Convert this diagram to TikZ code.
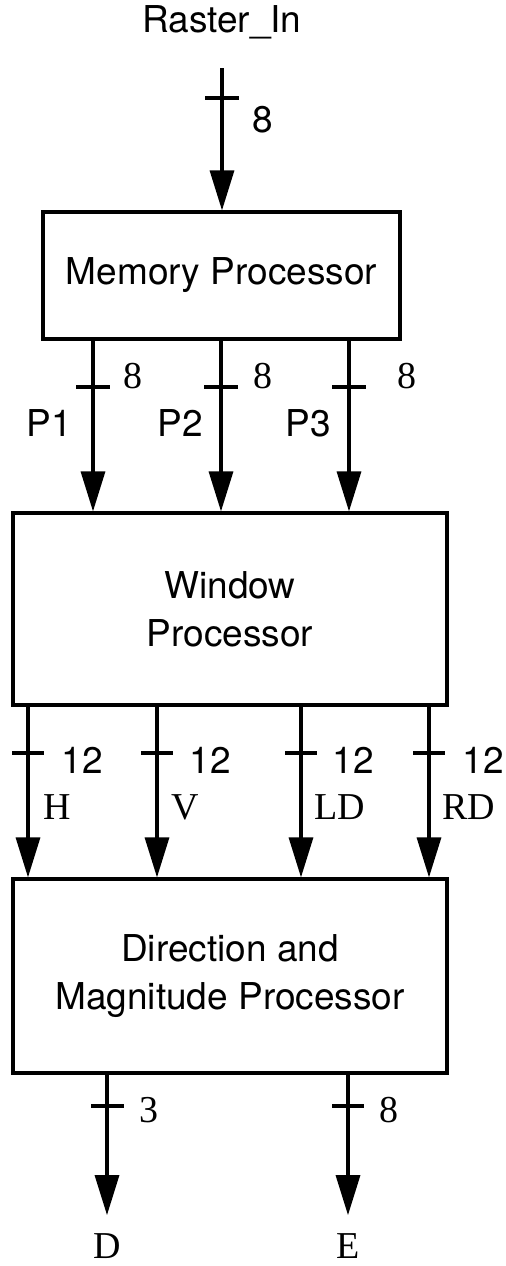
\documentclass[tikz,border=0pt]{standalone}
\usepackage{fontspec}
\setmainfont{Liberation Serif}
\newfontfamily\helv{TeX Gyre Heros}
\usetikzlibrary{arrows.meta}

\tikzset{
    block/.style={draw, line width=1.6pt, inner sep=0pt, align=center,
        font=\helv\fontsize{18.5}{24}\selectfont},
    bus/.style={line width=1.6pt, -{Triangle[length=20pt, width=12pt]}},
    buswidth/.style={line width=1.6pt},
    sanslabel/.style={inner sep=0pt, font=\helv\fontsize{18.5}{21}\selectfont},
    seriflabel/.style={inner sep=0pt, font=\fontsize{19}{22}\selectfont},
}

\begin{document}
\begin{tikzpicture}[x=0.5pt, y=-0.5pt]
    \useasboundingbox (0,0) rectangle (505,1266);

    % ---------------- blocks ----------------
    \node[block, minimum width=178.5pt, minimum height=63.5pt] (mem) at (221.5,275.5) {Memory Processor};
    \node[block, minimum width=217pt, minimum height=96pt] (win) at (230,609) {Window\\Processor};
    \node[block, minimum width=217pt, minimum height=97pt] (dmp) at (230,976) {Direction and\\Magnitude Processor};

    % ---------------- input ----------------
    \node[sanslabel] (rin) at (222,22) {Raster\_In};
    \coordinate (rin-tail) at (222,68);
    \draw[bus] (rin-tail) -- (rin-tail |- mem.north);
    \draw[buswidth] (205,98) -- (239,98);
    \node[sanslabel] (w0) at (263,120) {8};

    % ---------------- memory -> window ----------------
    \draw[bus] (93,0 |- mem.south) -- (93,0 |- win.north);
    \draw[bus] (221,0 |- mem.south) -- (221,0 |- win.north);
    \draw[bus] (349,0 |- mem.south) -- (349,0 |- win.north);

    \draw[buswidth] (76,387) -- (110,387);
    \draw[buswidth] (204,387) -- (238,387);
    \draw[buswidth] (332,387) -- (366,387);

    \node[seriflabel] (w1) at (133,376) {8};
    \node[seriflabel] (w2) at (263,376) {8};
    \node[seriflabel] (w3) at (407,376) {8};

    \node[sanslabel] (p1) at (49,423) {P1};
    \node[sanslabel] (p2) at (180,423) {P2};
    \node[sanslabel] (p3) at (308,423) {P3};

    % ---------------- window -> direction/magnitude ----------------
    \draw[bus] (28,0 |- win.south) -- (28,0 |- dmp.north);
    \draw[bus] (157,0 |- win.south) -- (157,0 |- dmp.north);
    \draw[bus] (301,0 |- win.south) -- (301,0 |- dmp.north);
    \draw[bus] (429,0 |- win.south) -- (429,0 |- dmp.north);

    \draw[buswidth] (12,753) -- (44,753);
    \draw[buswidth] (141,753) -- (173,753);
    \draw[buswidth] (285,753) -- (317,753);
    \draw[buswidth] (413,753) -- (445,753);

    \node[sanslabel] (w4) at (82,760) {12};
    \node[sanslabel] (w5) at (210,760) {12};
    \node[sanslabel] (w6) at (353,760) {12};
    \node[sanslabel] (w7) at (483,760) {12};

    \node[seriflabel] (h) at (57,807) {H};
    \node[seriflabel] (v) at (185,807) {V};
    \node[seriflabel] (ld) at (340,807) {LD};
    \node[seriflabel] (rd) at (469,807) {RD};

    % ---------------- outputs ----------------
    \node[seriflabel] (d) at (107,1246) {D};
    \node[seriflabel] (e) at (348,1246) {E};

    \draw[bus, shorten >=9pt] (d |- dmp.south) -- (d.north);
    \draw[bus, shorten >=9pt] (e |- dmp.south) -- (e.north);

    \draw[buswidth] (91,1106) -- (124,1106);
    \draw[buswidth] (332,1106) -- (364,1106);

    \node[seriflabel] (w8) at (149,1110) {3};
    \node[seriflabel] (w9) at (389,1110) {8};
\end{tikzpicture}
\end{document}
